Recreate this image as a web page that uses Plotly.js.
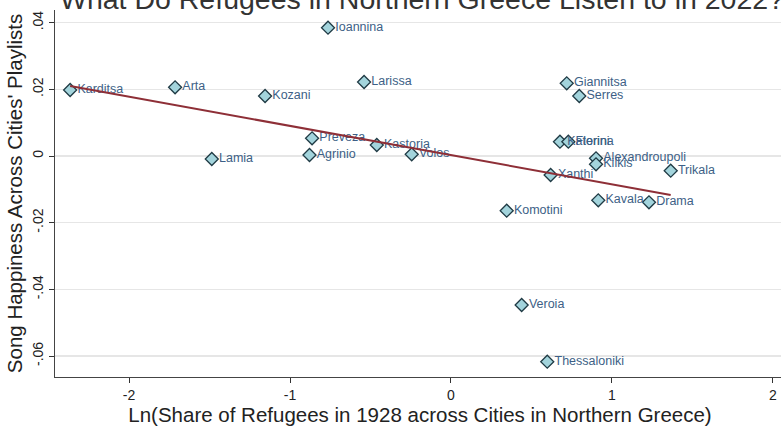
<!DOCTYPE html>
<html>
<head>
<meta charset="utf-8">
<script src="https://cdn.plot.ly/plotly-3.0.1.min.js"></script>
<style>
html,body{margin:0;padding:0;background:#fff;overflow:hidden;width:781px;height:427px;}
#chart{position:absolute;left:0;top:-30px;width:800px;height:460px;}
</style>
</head>
<body>
<div id="chart"></div>
<script>
// Cities (labels), x = Ln(share of refugees 1928), y = song happiness
const cities = ["Karditsa","Arta","Kozani","Ioannina","Larissa","Lamia","Preveza","Agrinio","Kastoria","Volos",
  "Komotini","Veroia","Thessaloniki","Xanthi","Katerini","Florina","Giannitsa","Serres","Alexandroupoli","Kilkis",
  "Kavala","Drama","Trikala"];
const lnShare = [-2.366,-1.714,-1.155,-0.764,-0.540,-1.486,-0.863,-0.879,-0.461,-0.244,
  0.346,0.439,0.598,0.619,0.677,0.729,0.719,0.797,0.901,0.901,
  0.915,1.230,1.365];
const happiness = [0.0198,0.0206,0.0180,0.0385,0.0222,-0.0009,0.0053,0.0003,0.0033,0.0005,
  -0.0164,-0.0447,-0.0617,-0.0057,0.0043,0.0043,0.0218,0.0180,-0.0007,-0.0025,
  -0.0133,-0.0139,-0.0044];
// Fitted line endpoints
const fitX = [-2.366, 1.365];
const fitY = [0.0210, -0.0117];
// Tick labels
const xTickVals = [-2,-1,0,1,2];
const xTickText = ["-2","-1","0","1","2"];
const yTickVals = [0.04,0.02,0,-0.02,-0.04,-0.06];
const yTickText = [".04",".02","0","-.02","-.04","-.06"];

const font = "Arial, 'Liberation Sans', Helvetica, sans-serif";

const traces = [
  {
    x: lnShare, y: happiness, text: cities, type: "scatter", mode: "markers+text",
    textposition: "middle right",
    textfont: {family: font, size: 12.5, color: "#3d5f86"},
    marker: {symbol: "diamond", size: 10, color: "#a3d4dc", line: {color: "#1f3a44", width: 1.3}},
    hoverinfo: "skip", cliponaxis: false
  },
  {
    x: fitX, y: fitY, type: "scatter", mode: "lines",
    line: {color: "#8e2f37", width: 2},
    hoverinfo: "skip"
  }
];

const layout = {
  width: 800, height: 460,
  margin: {l: 55, r: 15, t: 40, b: 53, pad: 0},
  paper_bgcolor: "#ffffff", plot_bgcolor: "#ffffff",
  showlegend: false,
  font: {family: font, color: "#222"},
  title: {
    text: "What Do Refugees in Northern Greece Listen to in 2022?",
    font: {family: font, size: 28.5, color: "#333"},
    x: 422/800, xref: "container", xanchor: "center",
    y: 1 - 29/460, yref: "container", yanchor: "middle"
  },
  xaxis: {
    range: [-2.46, 2.075],
    tickmode: "array", tickvals: xTickVals, ticktext: xTickText,
    ticks: "outside", ticklen: 5, tickwidth: 1, tickcolor: "#333",
    tickfont: {family: font, size: 14, color: "#222"},
    showgrid: false, zeroline: false,
    showline: true, linecolor: "#444", linewidth: 1,
    title: {text: "Ln(Share of Refugees in 1928 across Cities in Northern Greece)",
      font: {family: font, size: 20.5, color: "#222"}, standoff: 2},
    automargin: false, fixedrange: true
  },
  yaxis: {
    range: [-0.0663, 0.0438],
    tickmode: "array", tickvals: yTickVals, ticktext: yTickText,
    tickangle: -90,
    ticks: "outside", ticklen: 5, tickwidth: 1, tickcolor: "#333",
    tickfont: {family: font, size: 14, color: "#222"},
    showgrid: true, gridcolor: "#e6e6e6", gridwidth: 1.5,
    zeroline: false,
    showline: true, linecolor: "#444", linewidth: 1,
    title: {text: "Song Happiness Across Cities' Playlists",
      font: {family: font, size: 20.5, color: "#222"}, standoff: 2},
    automargin: false, fixedrange: true
  }
};

Plotly.newPlot("chart", traces, layout, {displayModeBar: false, staticPlot: true});
</script>
</body>
</html>
